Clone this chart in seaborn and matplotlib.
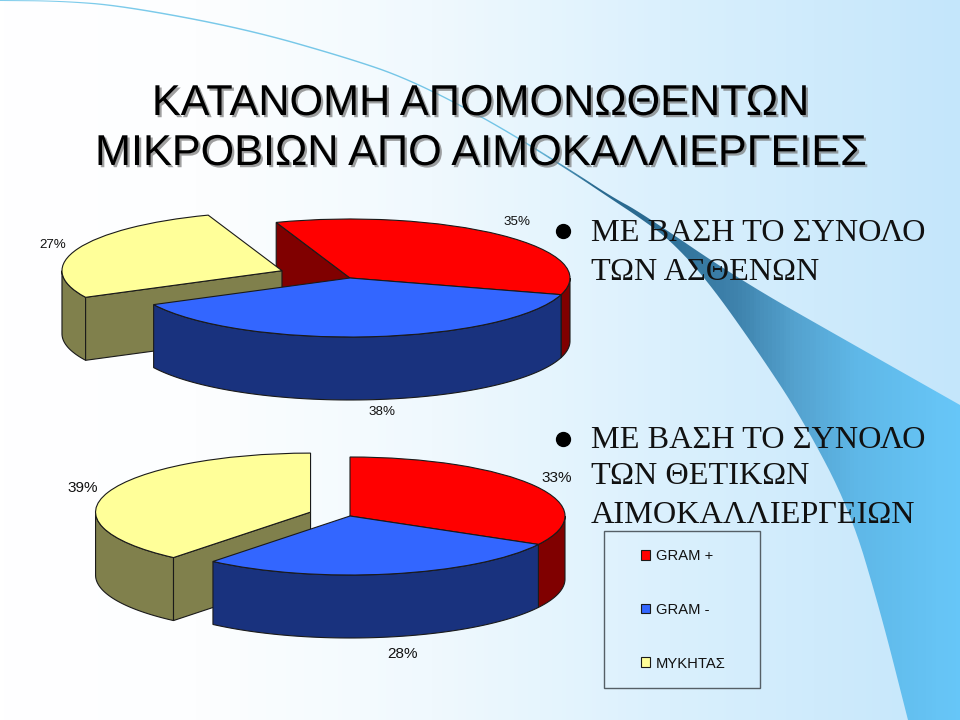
import numpy as np
import matplotlib
matplotlib.use("Agg")
import matplotlib.pyplot as plt
import matplotlib.patheffects as pe
from matplotlib.patches import Rectangle, Polygon
from matplotlib.colors import LinearSegmentedColormap
import seaborn as sns

# data
categories = ['GRAM +', 'GRAM -', 'ΜΥΚΗΤΑΣ']
patients_pct = [35, 38, 27]
cultures_pct = [33, 28, 39]
title_lines = ['ΚΑΤΑΝΟΜΗ ΑΠΟΜΟΝΩΘΕΝΤΩΝ', 'ΜΙΚΡΟΒΙΩΝ ΑΠΟ ΑΙΜΟΚΑΛΛΙΕΡΓΕΙΕΣ']
note_top = ['ΜΕ ΒΑΣΗ ΤΟ ΣΥΝΟΛΟ', 'ΤΩΝ ΑΣΘΕΝΩΝ']
note_bottom = ['ΜΕ ΒΑΣΗ ΤΟ ΣΥΝΟΛΟ', 'ΤΩΝ ΘΕΤΙΚΩΝ', 'ΑΙΜΟΚΑΛΛΙΕΡΓΕΙΩΝ']

top_colors = sns.color_palette(['#FF0000', '#3366FF', '#FFFF99'])
side_colors = sns.color_palette(['#800000', '#19327E', '#80804C'])

sns.set_theme(style="white")
plt.rcParams['font.family'] = ['Liberation Sans', 'DejaVu Sans']

W, H = 960, 720
fig = plt.figure(figsize=(W / 100, H / 100), dpi=100)


def smooth(points, rounds=3):
    # corner cutting so the swoosh edges do not show kinks
    pts = np.array(points, dtype=float)
    for _ in range(rounds):
        q = 0.75 * pts[:-1] + 0.25 * pts[1:]
        r = 0.25 * pts[:-1] + 0.75 * pts[1:]
        mid = np.empty((2 * len(q), 2))
        mid[0::2] = q
        mid[1::2] = r
        pts = np.vstack([pts[0], mid, pts[-1]])
    return pts


# slide background, pixel coordinates
bg = fig.add_axes([0, 0, 1, 1], zorder=-1)
bg.set_xlim(0, W)
bg.set_ylim(H, 0)
bg.axis('off')
bg_cmap = LinearSegmentedColormap.from_list(
    'bg', [(0, '#ffffff'), (0.2, '#fdfeff'), (0.45, '#f0f9fe'), (0.7, '#daf0fd'), (1, '#c4e6fb')])
grad = np.linspace(0, 1, 480).reshape(1, -1)
bg.imshow(grad, cmap=bg_cmap, extent=(0, W, H, 0), aspect='auto', zorder=0)

# swoosh across the slide
swoosh_cmap = LinearSegmentedColormap.from_list(
    'swoosh', [(0, '#7fcdec'), (0.55, '#72c4e6'), (0.62, '#2a6a90'), (0.667, '#2a6a90'), (0.77, '#3f83ad'),
               (0.833, '#55a3d0'), (0.896, '#5fb8e8'), (0.98, '#66c4f5'), (1, '#66c6f8')])
upper = [(0, 0), (60, 0.5), (122, 5), (245, 28), (347, 57), (408, 78), (490, 120), (571, 170), (612, 197),
         (640, 212), (740, 280), (840, 337), (960, 405)]
lower = [(908, 720), (880, 610), (850, 510), (803, 420), (757, 350), (707, 280), (670, 240), (640, 218),
         (612, 199.5), (571, 172), (490, 121.5), (408, 79.5), (347, 58.5), (245, 29.5), (122, 6.5), (60, 1.5), (0, 1)]
outline = np.vstack([smooth(upper), [(960, 720)], smooth(lower)])
shape = Polygon(outline, closed=True, transform=bg.transData, facecolor='none', edgecolor='none')
bg.add_patch(shape)
sw = bg.imshow(grad, cmap=swoosh_cmap, extent=(0, W, H, 0), aspect='auto', zorder=1)
sw.set_clip_path(shape)
bg.set_xlim(0, W)
bg.set_ylim(H, 0)

# title with its drop shadow
for line, y in zip(title_lines, [115, 165]):
    bg.text(480, y, line, ha='center', va='baseline', fontsize=31.1, color='black', zorder=5,
            path_effects=[pe.SimplePatchShadow(offset=(1.6, -1.6), shadow_rgbFace='#777777', alpha=0.7),
                          pe.Normal()])

# bullet notes
serif = ['Liberation Serif', 'DejaVu Serif']
for lines, ys, bullet_y in [(note_top, [241, 280], 231), (note_bottom, [448, 484, 523], 439)]:
    for line, y in zip(lines, ys):
        bg.text(591, y, line, family=serif, fontsize=23.2, color='#111111', va='baseline', zorder=5)
    bg.plot([563], [bullet_y], marker='o', ms=10, color='black', zorder=5)

# legend frame
bg.add_patch(Rectangle((603.5, 530.5), 156.5, 157.5, fill=False, edgecolor='#555f66', lw=1, zorder=5))


def draw_pie(values, cx, cy, rx, ry, depth, startangle, explode):
    # axes scaled so a unit radius gives the flattened ellipse
    x_span, y_low, y_high = 1.5, -2.4, 1.3
    left = (cx - x_span * rx) / W
    bottom = 1 - (cy - y_low * ry) / H
    ax = fig.add_axes([left, bottom, 2 * x_span * rx / W, (y_high - y_low) * ry / H])
    wedges, _ = ax.pie(values, colors=top_colors, startangle=startangle, counterclock=False,
                       explode=explode, radius=1,
                       wedgeprops=dict(edgecolor='#1a1a1a', linewidth=0.8))
    ax.set_aspect('auto')
    ax.set_xlim(-x_span, x_span)
    ax.set_ylim(y_low, y_high)

    d = depth / ry
    # red at the back, then the yellow slice, then blue in front
    for order, idx in enumerate([0, 2, 1]):
        w = wedges[idx]
        base = 2 * order + 1
        w.set_zorder(base + 1)
        c = np.array(w.center)
        t1, t2 = w.theta1 % 360, w.theta2 % 360
        if t2 <= t1:
            t2 += 360
        # rim, the part of the arc facing the viewer
        for lo, hi in [(t1, t2), (t1 + 360, t2 + 360), (t1 - 360, t2 - 360)]:
            a, b = max(lo, 180), min(hi, 360)
            if b > a:
                th = np.radians(np.linspace(a, b, 80))
                xs = c[0] + np.cos(th)
                ys = c[1] + np.sin(th)
                ax.fill(np.r_[xs, xs[::-1]], np.r_[ys, ys[::-1] - d], facecolor=side_colors[idx],
                        edgecolor='#1a1a1a', linewidth=0.8, zorder=base)
        # cut faces seen through the gap left by the exploded slice
        for th_deg in (t1, t2):
            th = np.radians(th_deg)
            rim = c + np.array([np.cos(th), np.sin(th)])
            faces_viewer = (th_deg == t1 and np.cos(th) > 0) or (th_deg == t2 and np.cos(th) < 0)
            if faces_viewer:
                ax.fill([rim[0], c[0], c[0], rim[0]], [rim[1], c[1], c[1] - d, rim[1] - d],
                        facecolor=side_colors[idx], edgecolor='#1a1a1a', linewidth=0.8, zorder=base)
    return wedges


wedges_top = draw_pie(patients_pct, 350, 278, 220, 59, 63, 109.6, [0, 0, 0.333])
draw_pie(cultures_pct, 350, 516, 215, 59, 63, 90, [0, 0, 0.195])

# percentage labels
for val, x, y in zip(patients_pct, [517, 382, 53], [222, 412, 245]):
    bg.text(x, y, f'{val}%', ha='center', va='center', fontsize=9.6, color='#111111', zorder=5)
for val, x, y in zip(cultures_pct, [557, 403, 83], [478, 654, 488]):
    bg.text(x, y, f'{val}%', ha='center', va='center', fontsize=11, color='#111111', zorder=5)

fig.legend(wedges_top, categories, loc='upper left', bbox_to_anchor=(641 / W, 1 - 549 / H),
           frameon=False, borderpad=0, borderaxespad=0, fontsize=10.6,
           handlelength=0.64, handleheight=0.64, handletextpad=0.35, labelspacing=2.7,
           labelcolor='#111111')

fig.savefig('out.png', dpi=100)
